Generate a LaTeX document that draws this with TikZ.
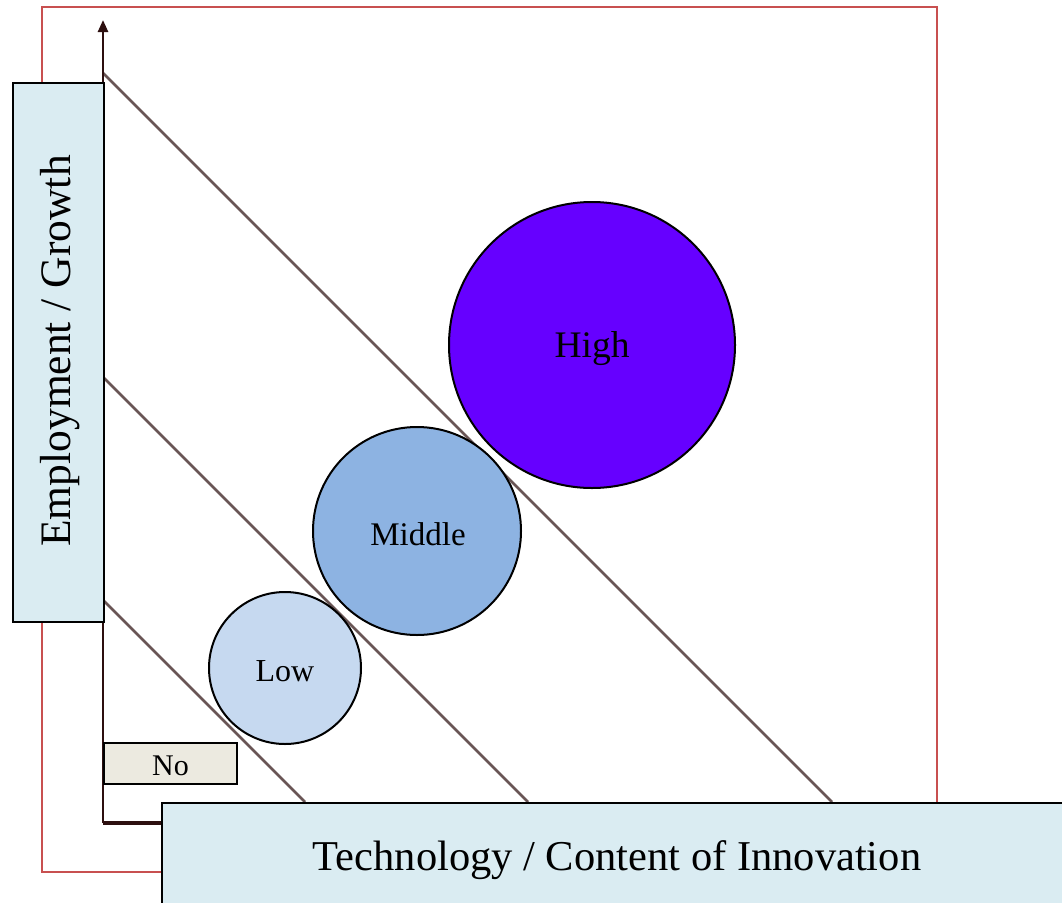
\documentclass[tikz,border=0pt]{standalone}
\usepackage{fontspec}
\setmainfont{Liberation Serif}
\usetikzlibrary{arrows.meta}
\definecolor{frame}{RGB}{200,80,80}
\definecolor{axis}{RGB}{45,15,15}
\definecolor{diag}{RGB}{105,85,85}
\definecolor{labelbg}{RGB}{218,236,242}
\definecolor{nobg}{RGB}{236,234,224}
\definecolor{highc}{RGB}{102,0,255}
\definecolor{midc}{RGB}{141,179,226}
\definecolor{lowc}{RGB}{198,217,240}
\tikzset{
  labelbox/.style={draw=black, line width=2pt, fill=labelbg, inner sep=0pt},
  bubble/.style={circle, draw=black, line width=2pt, inner sep=0pt},
  diagline/.style={draw=diag, line width=2.5pt},
}
\begin{document}
\begin{tikzpicture}[x=1pt,y=-1pt]
\useasboundingbox (0,0) rectangle (1062,902);
\fill[white] (0,0) rectangle (1062,902);
% red frame
\draw[frame, line width=2pt] (42,7) rectangle (937,872);
% diagonal lines
\coordinate (d1a) at (103,73);  \coordinate (d1b) at (832,802);
\coordinate (d2a) at (103,377); \coordinate (d2b) at (528,802);
\coordinate (d3a) at (103,600); \coordinate (d3b) at (305,802);
\draw[diagline] (d1a) -- (d1b);
\draw[diagline] (d2a) -- (d2b);
\draw[diagline] (d3a) -- (d3b);
% axes
\coordinate (origin) at (103,823);
\coordinate (ytop) at (103,20);
\coordinate (xend) at (170,823);
\draw[axis, line width=2.5pt, -{Triangle[length=12pt,width=10pt]}] (origin) -- (ytop);
\draw[axis, line width=3.5pt] (origin) -- (xend);
% bubbles
\node[bubble, fill=highc, minimum size=286pt] (high) at (592,345) {};
\node at (592,349) {\fontsize{37.5}{42}\selectfont High};
\node[bubble, fill=midc, minimum size=208pt] (mid) at (417,531) {};
\node at (418,534) {\fontsize{33}{38}\selectfont Middle};
\node[bubble, fill=lowc, minimum size=152pt] (low) at (285,668) {};
\node at (285,671) {\fontsize{32}{36}\selectfont Low};
% No box
\node[draw=black, line width=2pt, fill=nobg, minimum width=133pt, minimum height=41pt, inner sep=0pt] (no) at (170.5,763.5) {};
\node at (170.5,766) {\fontsize{30}{34}\selectfont No};
% axis labels
\node[labelbox, minimum width=91pt, minimum height=539pt] (ylab) at (58.5,352.5) {};
\node[rotate=90] (ylabtext) at (60,351) {\fontsize{43.5}{48}\selectfont Employment / Growth};
\node[labelbox, minimum width=910pt, minimum height=110pt, anchor=north west] (xlab) at (161,802) {};
\node (xlabtext) at (617,860) {\fontsize{42.5}{48}\selectfont Technology / Content of Innovation};
\end{tikzpicture}
\end{document}
